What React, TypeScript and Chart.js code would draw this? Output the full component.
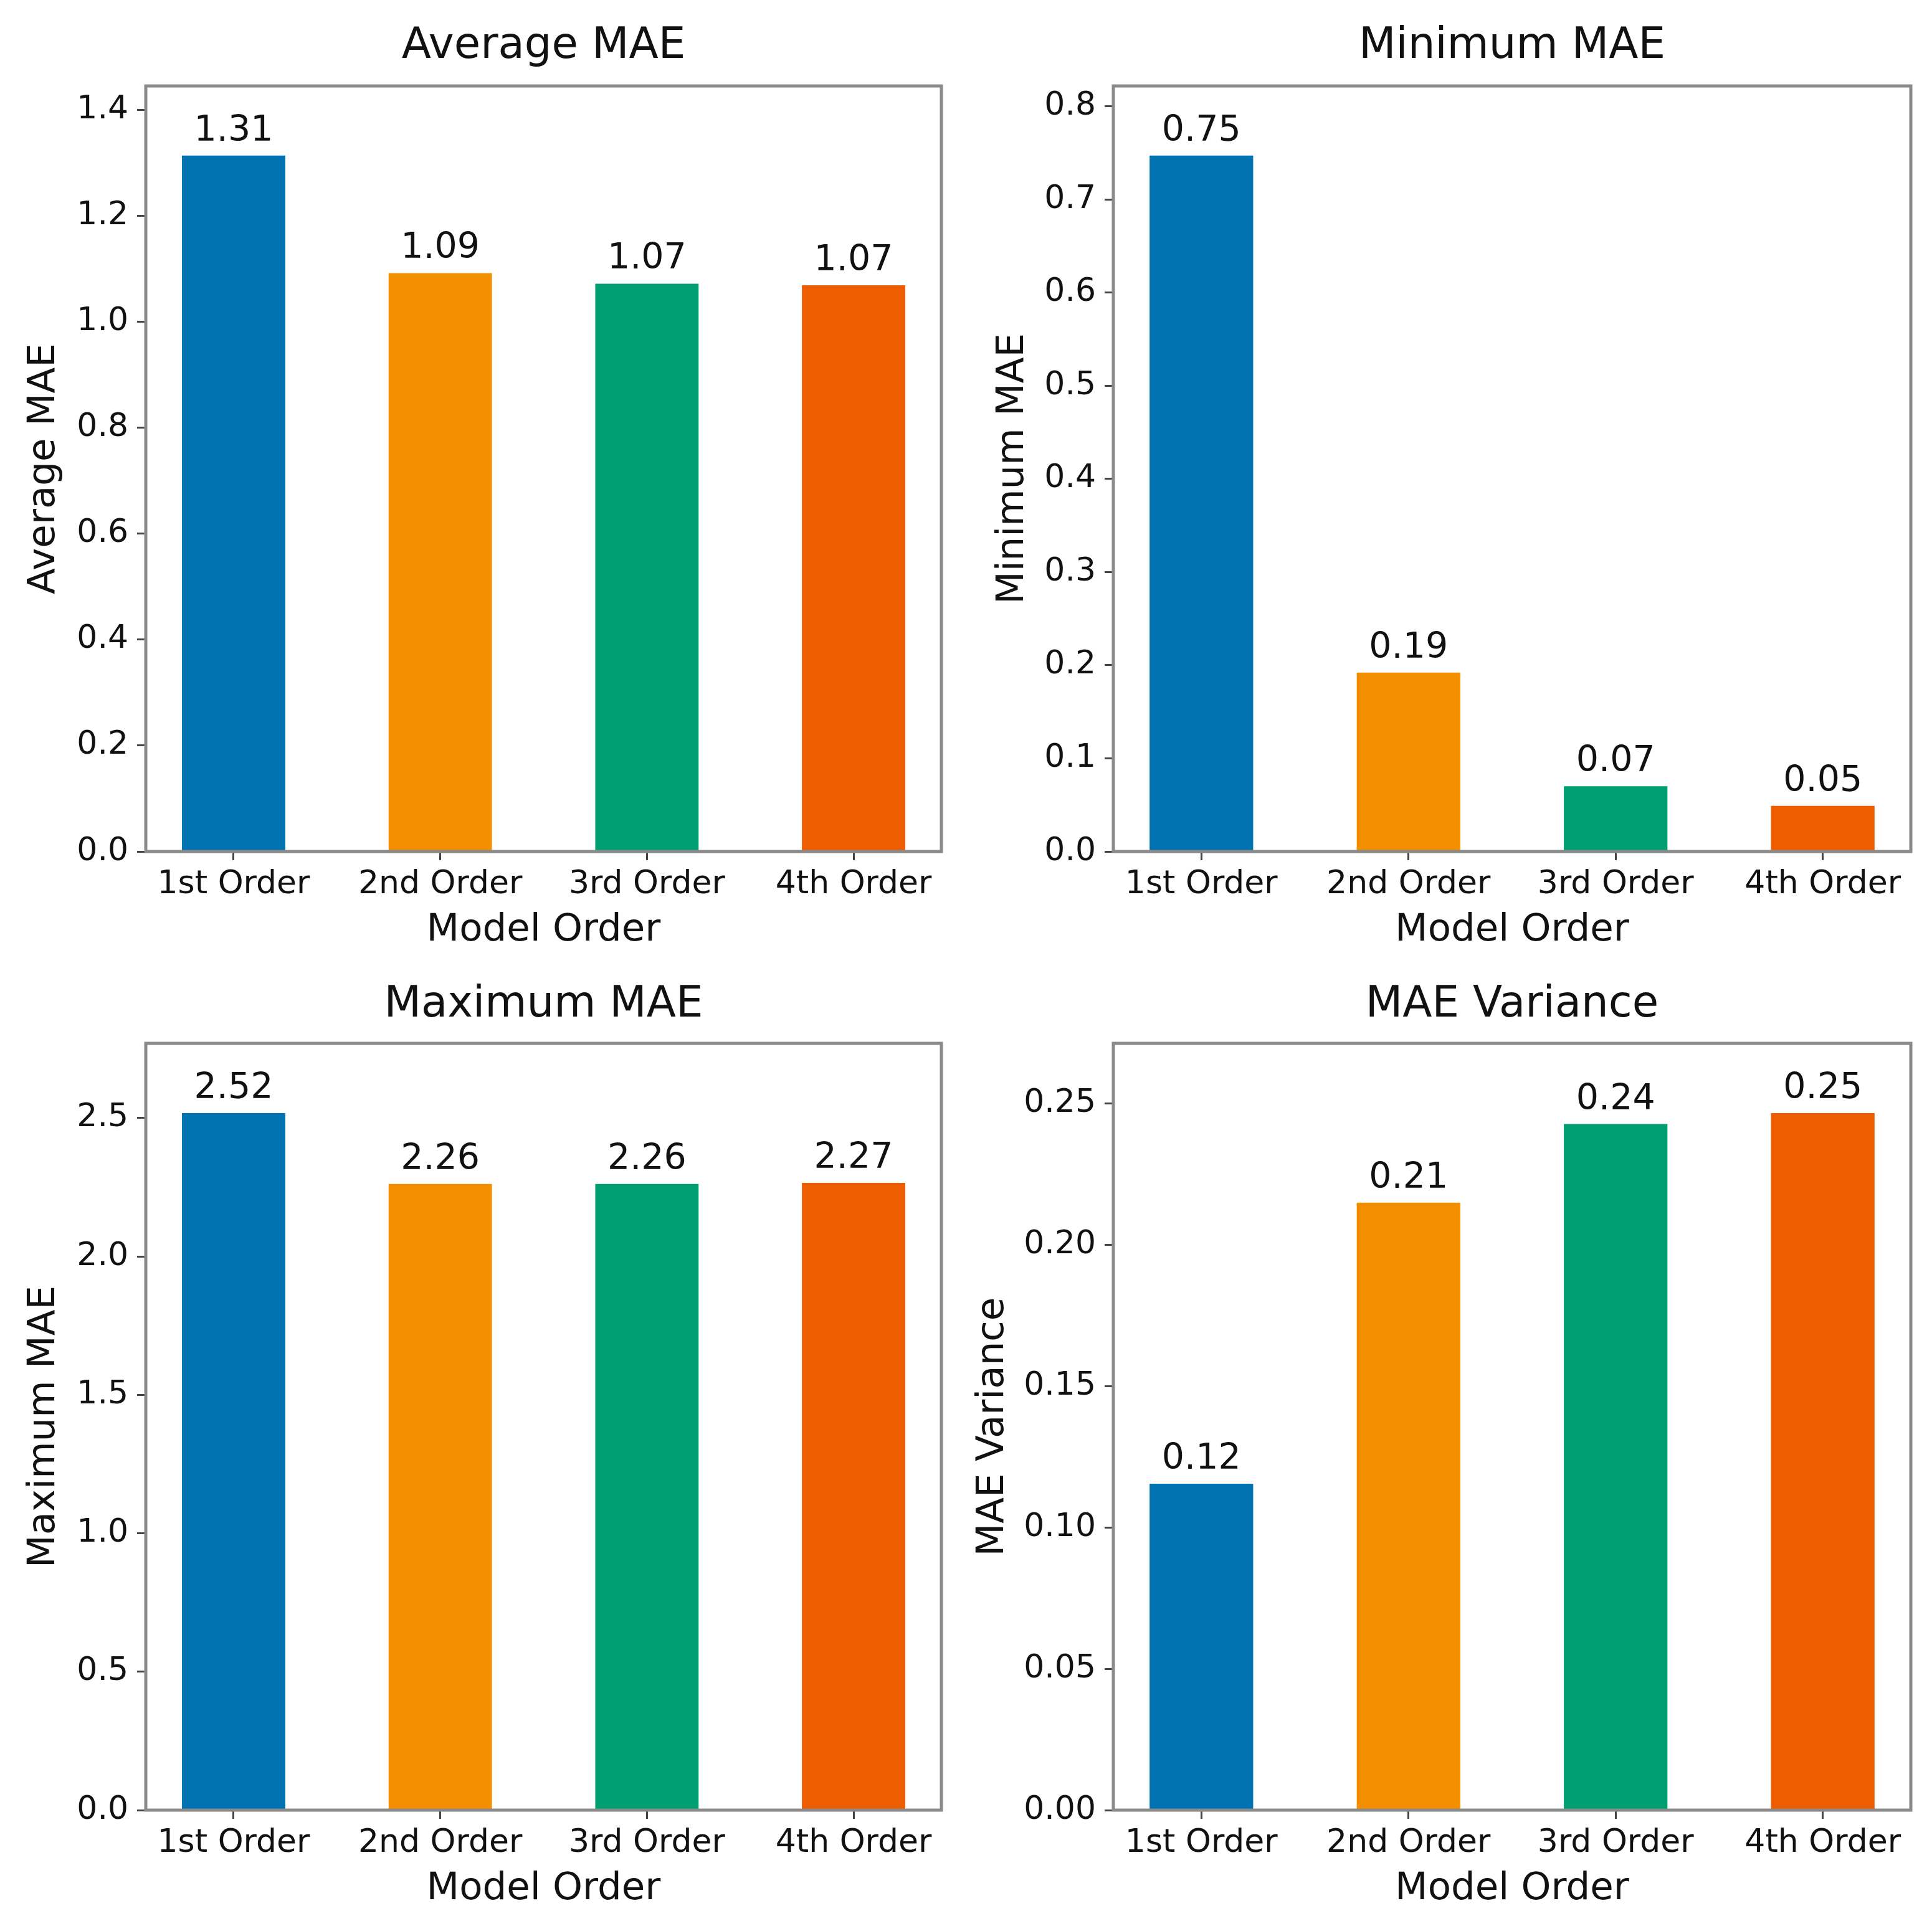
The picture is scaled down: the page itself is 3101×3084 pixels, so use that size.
import React, { useEffect, useRef } from "react";
import { Chart, registerables } from "chart.js";

Chart.register(...registerables);

const categories = ["1st Order", "2nd Order", "3rd Order", "4th Order"];
const averageMae = [1.314, 1.092, 1.072, 1.069];
const minimumMae = [0.747, 0.192, 0.07, 0.049];
const maximumMae = [2.518, 2.262, 2.262, 2.266];
const maeVariance = [0.1154, 0.2148, 0.2426, 0.2465];
const barColors = ["#0072B2", "#F28F00", "#009E73", "#EE5D00"];

const FAMILY = "'DejaVu Sans', sans-serif";
const TEXT = "#111";
const SPINE = "#8a8a8a";

// labels on top of the bars
const valueLabels = {
  id: "valueLabels",
  afterDatasetsDraw(chart: any) {
    const ctx = chart.ctx;
    const meta = chart.getDatasetMeta(0);
    const vals = chart.data.datasets[0].data;
    ctx.save();
    ctx.font = `57px ${FAMILY}`;
    ctx.fillStyle = TEXT;
    ctx.textAlign = "center";
    ctx.textBaseline = "alphabetic";
    meta.data.forEach((bar: any, i: number) => {
      ctx.fillText(vals[i].y.toFixed(2), bar.x, bar.y - 24);
    });
    ctx.restore();
  },
};

// matplotlib-like box around the axes
const frame = {
  id: "frame",
  afterDraw(chart: any) {
    const { left, top, right, bottom } = chart.chartArea;
    const ctx = chart.ctx;
    ctx.save();
    ctx.strokeStyle = SPINE;
    ctx.lineWidth = 5;
    ctx.strokeRect(left, top, right - left, bottom - top);
    ctx.restore();
  },
};

type PanelProps = {
  title: string;
  yLabel: string;
  values: number[];
  step: number;
  decimals: number;
  left: number;
  top: number;
  width: number;
  height: number;
  plotLeft: number;
  plotTop: number;
  plotRight: number;
  plotBottom: number;
  titleY: number;
  yTitleX: number;
  xTitleY: number;
};

function Panel(p: PanelProps) {
  const canvasRef = useRef<HTMLCanvasElement>(null);
  const chartRef = useRef<Chart | null>(null);

  useEffect(() => {
    if (!canvasRef.current) return;
    const titleLine = 69 * 1.2;
    const titlePadTop = p.titleY - titleLine / 2;
    const titlePadBottom = p.plotTop - titlePadTop - titleLine;
    const labelLine = 61 * 1.2;

    chartRef.current = new Chart(canvasRef.current, {
      type: "bar",
      data: {
        datasets: [
          {
            data: p.values.map((v, i) => ({ x: i, y: v })),
            backgroundColor: barColors,
            borderWidth: 0,
            categoryPercentage: 0.5,
            barPercentage: 1,
          },
        ],
      },
      options: {
        animation: false,
        responsive: false,
        maintainAspectRatio: false,
        devicePixelRatio: 1,
        layout: { padding: { left: 0, top: 0, bottom: 0, right: p.width - p.plotRight } },
        plugins: {
          legend: { display: false },
          tooltip: { enabled: false },
          title: {
            display: true,
            fullSize: false,
            text: p.title,
            color: TEXT,
            font: { family: FAMILY, size: 69, weight: "normal" },
            padding: { top: titlePadTop, bottom: titlePadBottom },
          },
        },
        scales: {
          x: {
            type: "linear",
            min: -0.425,
            max: 3.425,
            offset: false,
            ticks: {
              stepSize: 1,
              includeBounds: false,
              autoSkip: false,
              maxRotation: 0,
              padding: 8,
              color: TEXT,
              font: { family: FAMILY, size: 52 },
              callback: (v: any) => categories[v] ?? "",
            },
            grid: { offset: false, drawOnChartArea: false, drawTicks: true, tickLength: 14, color: "#444", lineWidth: 3 },
            border: { display: false },
            title: {
              display: true,
              text: "Model Order",
              color: TEXT,
              font: { family: FAMILY, size: 61 },
              padding: { top: 0, bottom: p.height - p.xTitleY - labelLine / 2 },
            },
            afterFit: (s: any) => {
              s.height = p.height - p.plotBottom;
            },
          },
          y: {
            min: 0,
            max: Math.max(...p.values) * 1.1,
            ticks: {
              stepSize: p.step,
              includeBounds: false,
              padding: 14,
              color: TEXT,
              font: { family: FAMILY, size: 52 },
              callback: (v: any) => Number(v).toFixed(p.decimals),
            },
            grid: { drawOnChartArea: false, drawTicks: true, tickLength: 14, color: "#444", lineWidth: 3 },
            border: { display: false },
            title: {
              display: true,
              text: p.yLabel,
              color: TEXT,
              font: { family: FAMILY, size: 61 },
              padding: { top: p.yTitleX - labelLine / 2, bottom: 0 },
            },
            afterFit: (s: any) => {
              s.width = p.plotLeft;
            },
          },
        },
      },
      plugins: [valueLabels, frame],
    } as any);

    return () => {
      if (chartRef.current) {
        chartRef.current.destroy();
        chartRef.current = null;
      }
    };
  }, []);

  return (
    <div style={{ position: "absolute", left: p.left, top: p.top, width: p.width, height: p.height }}>
      <canvas ref={canvasRef} width={p.width} height={p.height} style={{ width: p.width, height: p.height }} />
    </div>
  );
}

export default function App() {
  const topRow = { top: 0, height: 1538, plotTop: 138, plotBottom: 1367, titleY: 75, xTitleY: 1494 };
  const bottomRow = { top: 1538, height: 1546, plotTop: 137, plotBottom: 1368, titleY: 76, xTitleY: 1495 };
  const leftCol = { left: 0, width: 1550, plotLeft: 234, plotRight: 1511 };
  const rightCol = { left: 1550, width: 1551, plotLeft: 237, plotRight: 1517 };

  return (
    <div style={{ position: "absolute", left: 0, top: 0, width: 3101, height: 3084, background: "#fff" }}>
      <Panel title="Average MAE" yLabel="Average MAE" values={averageMae} step={0.2} decimals={1}
        {...topRow} {...leftCol} yTitleX={71} />
      <Panel title="Minimum MAE" yLabel="Minimum MAE" values={minimumMae} step={0.1} decimals={1}
        {...topRow} {...rightCol} yTitleX={76} />
      <Panel title="Maximum MAE" yLabel="Maximum MAE" values={maximumMae} step={0.5} decimals={1}
        {...bottomRow} {...leftCol} yTitleX={71} />
      <Panel title="MAE Variance" yLabel="MAE Variance" values={maeVariance} step={0.05} decimals={2}
        {...bottomRow} {...rightCol} yTitleX={44} />
    </div>
  );
}
